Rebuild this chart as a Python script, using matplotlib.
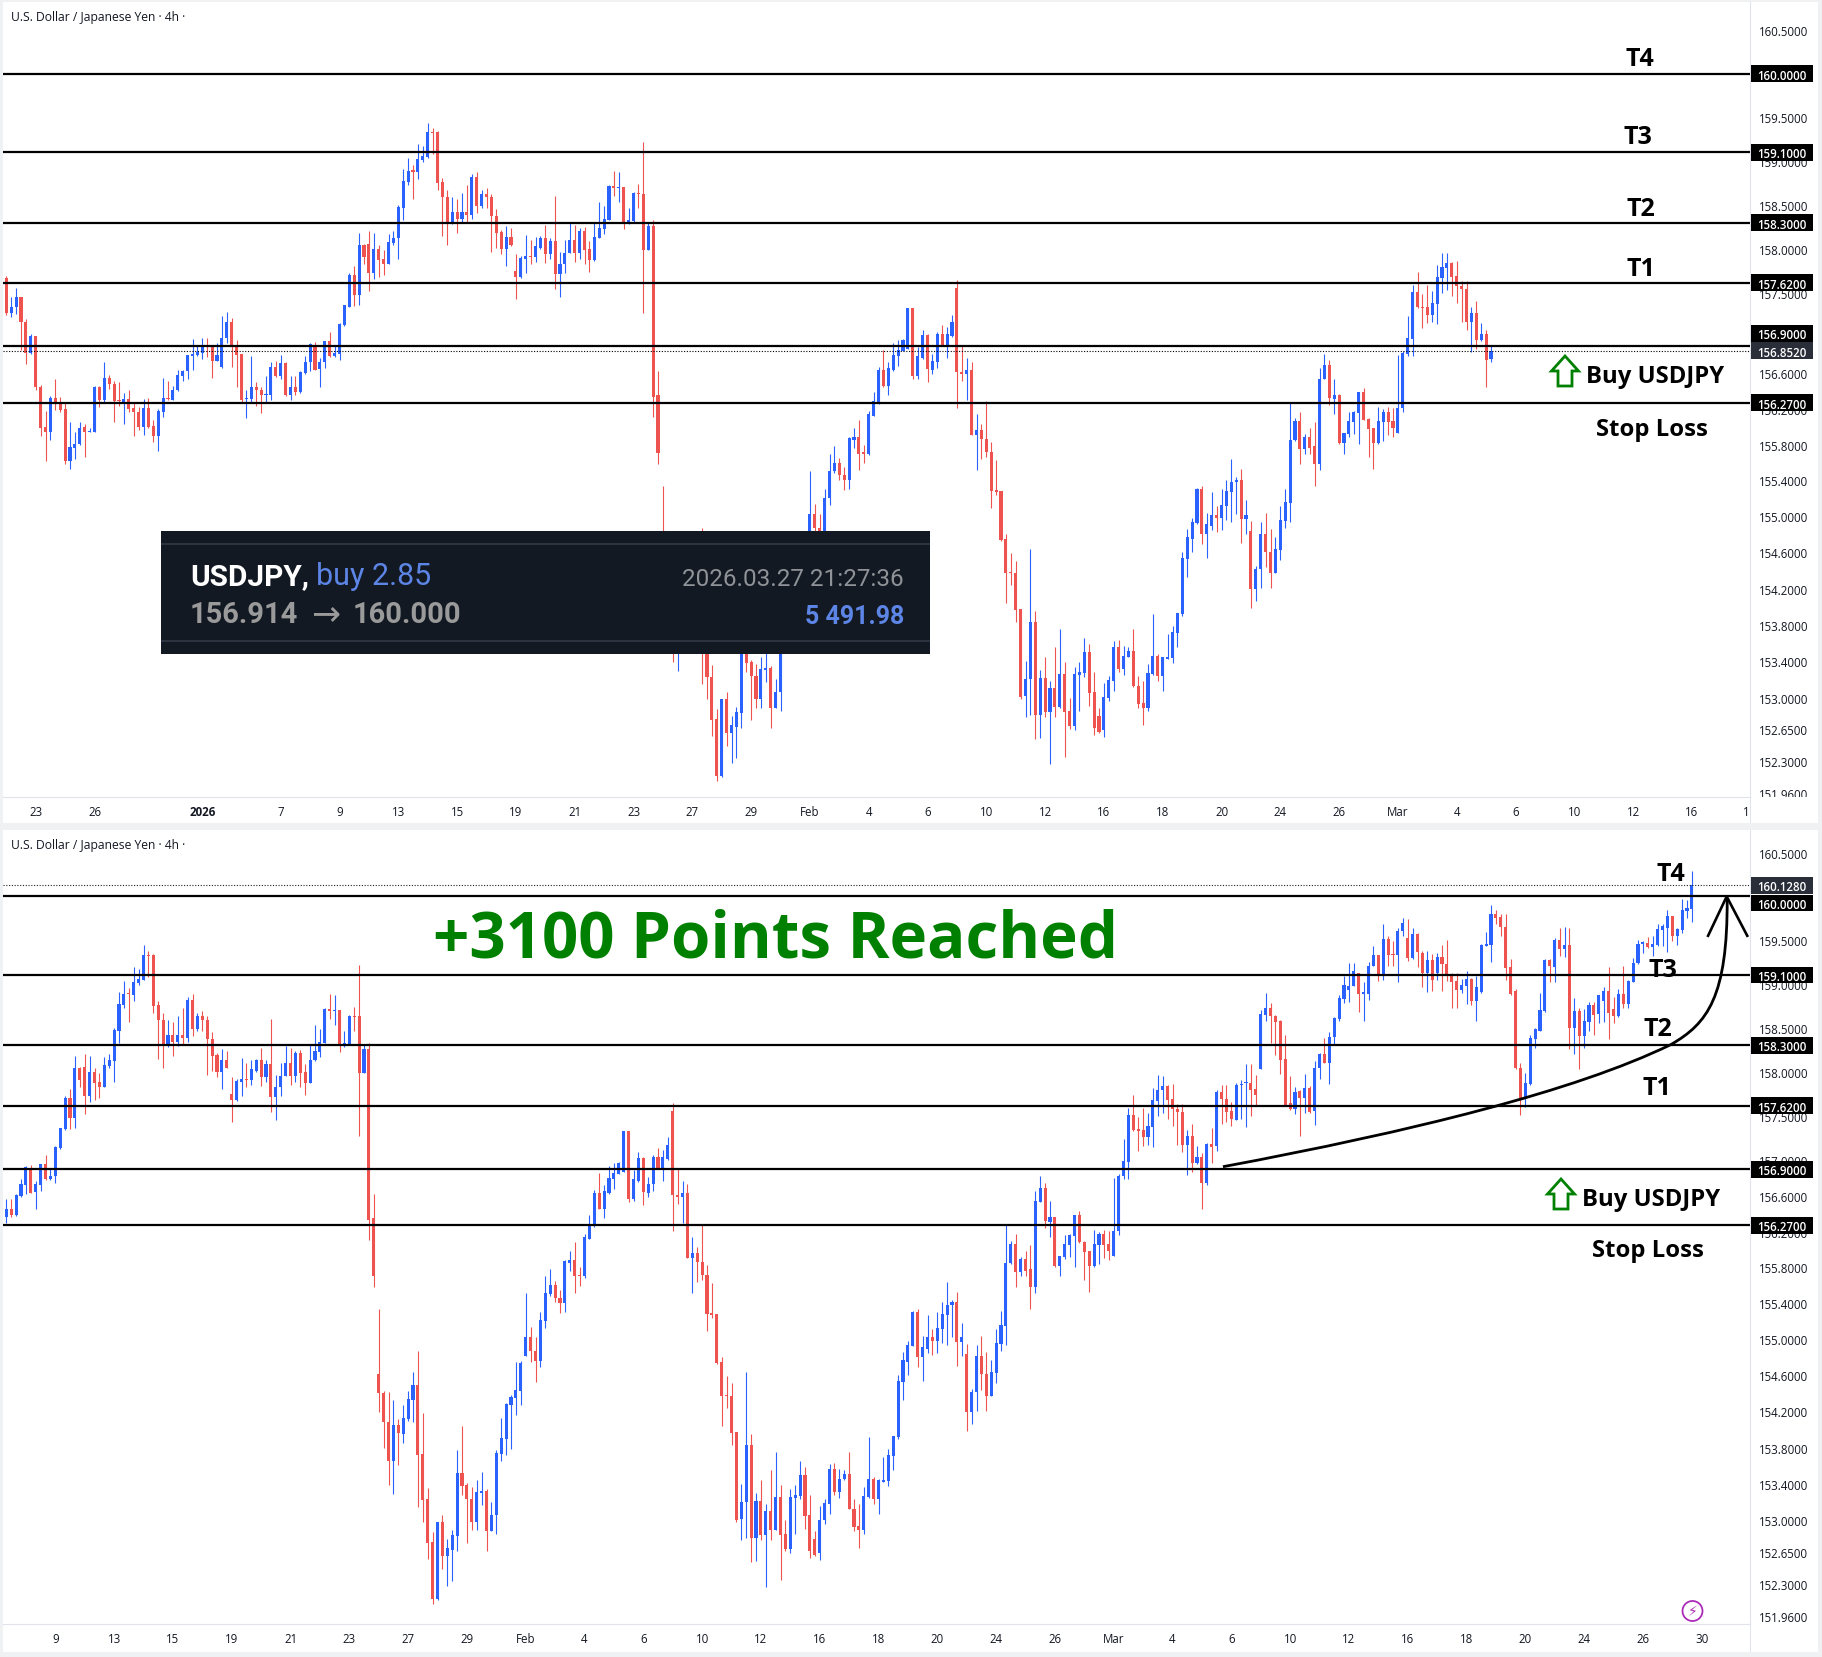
import numpy as np
import matplotlib
matplotlib.use('Agg')
import matplotlib.pyplot as plt
from matplotlib.patches import Rectangle, Polygon, Circle, PathPatch
from matplotlib.path import Path
from matplotlib.ticker import NullLocator, FixedLocator, FixedFormatter
from matplotlib.transforms import IdentityTransform, Bbox

# 4h USDJPY candles, oldest first
opens = [
    157.67,157.28,157.35,157.46,157.17,156.83,157.02,156.45,156.00,155.94,156.32,156.28,156.20,155.62,155.76,155.81,156.00,155.94,155.94,156.45,
    156.30,156.55,156.48,156.30,156.28,156.31,156.21,156.17,156.00,156.21,156.01,155.90,156.17,156.32,156.30,156.41,156.57,156.62,156.79,156.80,
    156.83,156.91,156.90,156.74,156.67,157.00,157.17,156.91,156.81,156.31,156.31,156.44,156.41,156.35,156.35,156.67,156.57,156.71,156.36,156.45,
    156.39,156.60,156.72,156.90,156.65,156.72,156.96,156.79,156.82,157.14,157.35,157.71,157.48,158.05,158.06,157.73,158.00,157.89,157.83,158.07,
    158.12,158.47,158.76,158.89,158.87,159.01,159.05,159.33,159.33,158.76,158.59,158.29,158.42,158.34,158.42,158.39,158.82,158.49,158.63,158.59,
    158.37,158.19,158.00,158.14,157.75,157.68,157.89,157.92,157.91,158.01,158.13,157.94,158.09,157.72,157.83,157.95,158.10,157.95,158.21,158.00,
    157.88,158.13,158.23,158.33,158.72,158.69,158.70,158.30,158.32,158.64,158.63,157.99,158.26,156.35,154.62,154.40,154.08,153.65,154.05,153.95,
    154.12,154.33,154.49,153.73,153.23,152.76,152.14,152.98,152.61,152.68,152.83,153.52,153.39,153.24,152.98,153.30,153.32,152.88,153.06,153.73,
    153.90,154.27,154.35,154.43,154.82,155.03,154.87,154.76,155.20,155.50,155.60,155.46,155.40,155.85,155.88,155.71,155.70,156.12,156.27,156.63,
    156.46,156.64,156.79,156.85,156.87,157.33,156.57,156.77,157.03,156.64,156.73,157.04,156.91,157.02,157.56,156.61,156.59,156.63,155.91,155.96,
    155.86,155.72,155.29,155.28,154.75,154.38,154.37,153.97,153.02,153.20,153.83,152.81,153.21,152.84,153.10,152.90,153.26,152.85,152.69,153.25,
    153.27,153.50,153.06,152.80,152.64,153.00,153.18,153.56,153.31,153.45,153.51,153.13,152.94,152.89,153.26,153.46,153.24,153.42,153.43,153.71,
    153.92,154.53,154.75,154.93,155.30,154.80,154.89,155.02,154.98,155.12,155.27,155.38,155.41,154.97,154.84,154.19,154.42,154.81,154.61,154.37,
    154.63,154.95,155.15,155.85,156.06,155.75,155.89,155.78,155.58,156.53,156.69,156.31,156.36,155.82,155.92,156.05,156.15,156.39,156.09,155.98,
    155.82,156.05,156.17,156.06,155.93,156.21,156.82,156.98,157.51,157.35,157.34,157.26,157.38,157.67,157.79,157.84,157.69,157.58,157.55,157.17,
    157.28,156.97,157.04,156.75,157.19,157.16,157.77,157.69,157.56,157.46,157.85,157.87,157.88,157.81,158.03,158.65,158.73,158.64,158.58,158.15,
    157.65,157.58,157.78,157.70,157.82,157.56,158.04,158.20,158.10,158.40,158.60,158.83,158.93,158.98,159.12,158.89,158.89,159.20,159.33,159.10,
    159.51,159.34,159.33,159.60,159.52,159.30,159.57,159.35,159.12,159.27,159.12,159.31,159.23,159.10,159.03,158.93,158.98,159.06,158.81,158.91,
    159.43,159.45,159.80,159.77,159.65,159.19,158.92,158.04,157.69,157.86,158.37,158.47,158.69,159.27,159.19,159.50,159.40,159.44,158.50,158.69,
    158.41,158.57,158.76,158.66,158.81,158.92,158.72,158.63,158.89,158.77,159.02,159.24,159.46,159.47,159.42,159.44,159.62,159.64,159.78,159.55,
    159.62,159.83,159.86]
highs = [
    157.70,157.46,157.56,157.46,157.21,157.04,157.02,156.47,156.18,156.34,156.53,156.33,156.27,156.05,155.94,156.05,156.03,155.99,156.46,156.46,
    156.72,156.58,156.51,156.50,156.38,156.41,156.28,156.22,156.31,156.32,156.08,156.20,156.55,156.51,156.46,156.63,156.64,156.80,156.98,156.91,
    156.99,156.99,156.92,156.94,157.24,157.29,157.22,156.97,156.81,156.41,156.79,156.50,156.44,156.57,156.73,156.74,156.80,156.72,156.57,156.57,
    156.62,156.79,156.94,156.95,156.77,156.96,157.06,156.91,157.16,157.37,157.73,157.81,158.18,158.06,158.20,158.18,158.05,157.99,158.17,158.20,
    158.50,158.91,159.03,158.95,159.19,159.17,159.44,159.38,159.34,158.81,158.67,158.59,158.57,158.64,158.73,158.85,158.88,158.67,158.69,158.63,
    158.45,158.22,158.26,158.24,157.94,157.92,158.16,158.10,158.14,158.15,158.27,158.13,158.60,157.97,158.10,158.29,158.27,158.24,158.25,158.09,
    158.31,158.53,158.49,158.73,158.89,158.87,158.70,158.47,158.65,158.74,159.22,158.31,158.33,156.62,155.34,154.43,154.41,154.33,154.12,154.27,
    154.43,154.64,154.87,154.18,153.36,152.87,152.98,153.06,152.80,152.90,153.77,154.04,153.41,153.37,153.44,153.53,153.35,153.20,153.77,154.13,
    154.29,154.38,154.75,154.76,155.51,155.14,155.03,155.30,155.70,155.78,155.65,155.55,155.88,155.98,156.08,155.80,156.18,156.39,156.67,156.86,
    156.72,156.94,156.97,156.98,157.33,157.33,156.89,157.09,157.04,156.81,157.06,157.14,157.12,157.26,157.65,156.92,156.77,156.73,156.14,156.03,
    156.29,155.83,155.63,155.28,154.80,154.59,154.51,153.97,153.40,154.64,153.95,153.30,153.44,153.18,153.55,153.75,153.39,153.00,153.34,153.39,
    153.65,153.59,153.28,152.88,153.16,153.24,153.62,153.63,153.57,153.55,153.75,153.24,153.18,153.37,153.92,153.48,153.45,153.70,153.79,153.93,
    154.60,154.86,154.98,155.32,155.34,155.04,155.27,155.12,155.30,155.41,155.64,155.44,155.53,155.18,154.95,154.45,154.94,155.04,154.86,154.77,
    155.12,155.31,156.28,156.10,156.17,155.92,155.99,156.05,156.66,156.82,156.75,156.54,156.37,155.93,156.16,156.18,156.39,156.43,156.10,155.98,
    156.22,156.20,156.22,156.21,156.80,156.85,157.24,157.59,157.74,157.49,157.59,157.53,157.82,157.96,157.95,157.85,157.86,157.64,157.64,157.34,
    157.41,157.16,157.08,157.20,157.37,157.79,157.85,157.85,157.66,157.88,157.91,158.09,158.09,157.97,158.70,158.90,158.78,158.65,158.59,158.42,
    157.95,157.83,157.79,157.98,157.84,158.12,158.22,158.39,158.45,158.62,158.87,159.09,159.24,159.24,159.12,159.02,159.25,159.43,159.33,159.68,
    159.55,159.49,159.64,159.75,159.74,159.64,159.58,159.38,159.38,159.34,159.35,159.45,159.50,159.12,159.12,159.06,159.15,159.07,159.09,159.46,
    159.59,159.90,159.85,159.80,159.80,159.29,158.94,158.10,157.99,158.42,158.50,158.90,159.28,159.28,159.53,159.64,159.65,159.64,158.84,158.73,
    158.71,158.79,158.79,158.87,158.96,159.19,158.85,158.94,159.20,159.05,159.30,159.50,159.49,159.54,159.55,159.69,159.69,159.84,159.78,159.64,
    159.97,159.96,160.29]
lows = [
    157.25,157.23,157.27,156.86,156.70,156.82,156.41,155.90,155.62,155.85,156.19,156.17,155.58,155.53,155.64,155.80,155.66,155.94,155.94,156.22,
    156.26,156.42,156.05,156.23,156.03,156.17,155.90,155.96,155.91,155.99,155.83,155.73,156.11,156.30,156.30,156.40,156.51,156.54,156.63,156.79,
    156.76,156.78,156.55,156.74,156.66,156.94,156.67,156.45,156.26,156.10,156.26,156.23,156.15,156.27,156.30,156.56,156.53,156.34,156.30,156.36,
    156.38,156.59,156.62,156.63,156.45,156.66,156.78,156.78,156.75,157.13,157.34,157.36,157.37,157.83,157.52,157.66,157.68,157.71,157.83,158.05,
    157.89,158.33,158.73,158.57,158.80,158.99,159.04,159.08,158.67,158.15,158.05,158.28,158.18,158.29,158.30,158.34,158.41,158.46,158.47,157.97,
    158.01,157.94,157.81,158.04,157.43,157.67,157.73,157.83,157.85,158.00,157.84,157.89,157.55,157.46,157.73,157.95,157.85,157.89,157.83,157.74,
    157.87,158.12,158.17,158.33,158.60,158.53,158.23,158.28,158.31,158.47,157.28,157.99,156.11,155.58,154.19,153.80,153.39,153.29,153.61,153.85,
    154.09,154.08,153.15,152.98,152.58,152.09,152.13,152.47,152.28,152.34,152.67,153.28,152.75,152.89,152.89,153.17,152.67,152.88,152.85,153.65,
    153.72,153.79,154.16,154.27,154.81,154.75,154.53,154.69,155.13,155.48,155.41,155.29,155.30,155.76,155.52,155.59,155.68,156.12,156.25,156.45,
    156.35,156.62,156.68,156.85,156.87,156.53,156.54,156.76,156.50,156.59,156.66,156.90,156.77,157.01,156.21,156.51,156.30,155.91,155.52,155.64,
    155.66,155.09,155.24,154.73,154.04,154.24,153.83,152.98,152.79,152.81,152.55,152.56,152.79,152.27,152.79,152.89,152.35,152.66,152.64,152.85,
    153.23,152.91,152.59,152.61,152.57,152.96,153.07,153.28,153.25,153.44,153.12,152.88,152.70,152.85,153.25,153.18,153.07,153.42,153.38,153.55,
    153.90,154.33,154.60,154.92,154.69,154.54,154.85,154.83,154.85,154.96,154.94,155.03,154.70,154.81,153.98,154.06,154.21,154.44,154.21,154.37,
    154.52,154.87,154.94,155.84,155.58,155.70,155.70,155.34,155.52,156.53,156.24,156.14,155.81,155.70,155.89,155.92,155.81,156.07,155.66,155.53,
    155.81,155.84,155.91,155.88,155.93,156.16,156.79,156.79,157.33,157.11,157.16,157.17,157.15,157.50,157.54,157.47,157.39,157.17,157.09,156.84,
    156.87,156.96,156.45,156.72,156.97,157.11,157.41,157.43,157.39,157.46,157.47,157.38,157.50,157.62,158.03,158.58,158.33,158.19,157.98,157.62,
    157.57,157.52,157.28,157.54,157.53,157.40,157.92,158.10,157.86,158.30,158.58,158.78,158.79,158.98,158.68,158.58,158.82,159.20,159.03,159.05,
    159.21,159.21,159.02,159.55,159.26,159.29,159.19,158.97,158.91,158.92,159.04,158.92,159.03,158.73,158.73,158.90,158.77,158.76,158.58,158.90,
    159.43,159.25,159.68,159.55,159.05,158.87,158.03,157.51,157.60,157.85,158.27,158.46,158.68,159.02,159.02,159.32,159.31,158.26,158.20,158.03,
    158.27,158.46,158.42,158.56,158.57,158.37,158.56,158.62,158.73,158.73,159.02,159.23,159.35,159.41,159.32,159.43,159.43,159.36,159.49,159.45,
    159.58,159.75,159.71]
closes = [
    157.28,157.35,157.46,157.17,156.83,157.02,156.44,155.99,155.94,156.32,156.27,156.19,155.62,155.77,155.81,155.99,155.94,155.95,156.45,156.30,
    156.55,156.48,156.29,156.29,156.31,156.20,156.16,156.00,156.21,156.00,155.90,156.18,156.32,156.31,156.41,156.58,156.62,156.80,156.81,156.84,
    156.91,156.89,156.74,156.80,157.00,157.17,156.89,156.80,156.30,156.32,156.44,156.41,156.35,156.35,156.67,156.57,156.71,156.36,156.45,156.39,
    156.61,156.73,156.93,156.64,156.73,156.96,156.79,156.83,157.15,157.37,157.71,157.48,158.05,157.91,157.73,158.00,157.88,157.83,158.08,158.13,
    158.48,158.77,158.89,158.88,159.02,159.06,159.33,159.32,158.75,158.59,158.29,158.42,158.34,158.42,158.39,158.82,158.49,158.63,158.59,158.37,
    158.18,158.00,158.14,158.05,157.68,157.90,157.92,157.91,158.03,158.13,157.94,158.09,157.72,157.83,157.95,158.10,157.95,158.21,157.99,157.88,
    158.14,158.24,158.34,158.72,158.69,158.70,158.30,158.33,158.64,158.62,157.99,158.26,156.33,155.71,154.40,154.08,153.65,154.05,153.96,154.13,
    154.34,154.49,153.72,153.22,152.75,152.14,152.98,152.61,152.70,152.84,153.52,153.38,153.24,152.98,153.31,153.32,152.88,153.06,153.74,153.91,
    154.28,154.36,154.44,154.74,155.03,154.87,154.76,155.21,155.51,155.60,155.46,155.40,155.87,155.88,155.70,155.70,156.14,156.29,156.63,156.46,
    156.66,156.80,156.86,156.97,157.33,156.57,156.79,157.03,156.65,156.74,157.04,156.91,157.04,157.18,156.61,156.59,156.63,155.91,155.96,155.86,
    155.72,155.28,155.27,154.74,154.37,154.37,153.96,153.01,153.20,153.83,152.81,153.21,152.84,153.10,152.90,153.26,152.84,152.69,153.26,153.28,
    153.50,153.05,152.67,152.62,153.01,153.19,153.56,153.31,153.46,153.51,153.13,152.93,152.89,153.27,153.46,153.24,153.44,153.44,153.72,153.93,
    154.54,154.77,154.94,155.30,154.80,154.91,155.02,154.98,155.13,155.28,155.38,155.41,154.97,155.02,154.19,154.42,154.81,154.61,154.37,154.64,
    154.96,155.16,155.85,156.06,155.75,155.89,155.76,155.58,156.54,156.69,156.32,156.36,155.82,155.93,156.06,156.16,156.39,156.08,155.97,155.82,
    156.06,156.17,156.05,155.99,156.21,156.83,156.99,157.51,157.34,157.33,157.26,157.39,157.68,157.80,157.84,157.68,157.58,157.55,157.17,157.28,
    156.97,157.04,156.75,157.19,157.15,157.77,157.69,157.55,157.47,157.85,157.86,157.88,157.80,157.74,158.66,158.73,158.63,158.57,158.14,157.63,
    157.58,157.77,157.70,157.82,157.55,158.05,158.20,158.10,158.40,158.61,158.84,158.99,158.98,159.15,158.88,158.89,159.21,159.33,159.10,159.51,
    159.33,159.33,159.61,159.70,159.30,159.57,159.37,159.12,159.27,159.04,159.31,159.23,159.09,159.02,158.93,158.99,159.06,158.81,158.96,159.45,
    159.46,159.80,159.75,159.65,159.18,158.88,158.04,157.69,157.87,158.39,158.49,158.70,159.27,159.20,159.50,159.40,159.44,158.50,158.69,158.41,
    158.58,158.76,158.65,158.87,158.92,158.67,158.63,158.89,158.77,159.03,159.24,159.46,159.48,159.42,159.46,159.63,159.66,159.78,159.55,159.63,
    159.84,159.87,160.128]

# the candle still forming when the first snapshot was taken
live_open, live_high, live_low, live_close = 156.76, 156.92, 156.72, 156.852

levels = [160.0, 159.1, 158.3, 157.62, 156.9, 156.27]
axis_prices = [160.5, 159.5, 159.0, 158.5, 158.0, 157.5, 157.0, 156.6, 156.2, 155.8, 155.4,
               155.0, 154.6, 154.2, 153.8, 153.4, 153.0, 152.65, 152.3, 151.96]

top_tick_pos = [6, 18, 40, 56, 68, 80, 92, 104, 116, 128, 140, 152, 164, 176, 188, 200, 212, 224,
                236, 248, 260, 272, 284, 296, 308, 320, 332, 344, 355]
top_tick_labels = ['23', '26', '2026', '7', '9', '13', '15', '19', '21', '23', '27', '29', 'Feb', '4', '6',
                   '10', '12', '16', '18', '20', '24', '26', 'Mar', '4', '6', '10', '12', '16', '1']
bottom_tick_pos = [68, 80, 92, 104, 116, 128, 140, 152, 164, 176, 188, 200, 212, 224, 236, 248, 260,
                   272, 284, 296, 308, 320, 332, 344, 356, 368, 380, 392, 404]
bottom_tick_labels = ['9', '13', '15', '19', '21', '23', '27', '29', 'Feb', '4', '6', '10', '12', '16', '18',
                      '20', '24', '26', 'Mar', '4', '6', '10', '12', '16', '18', '20', '24', '26', '30']

# projection drawn by hand on the lower chart, two bezier segments
curve_x = [306.3, 345, 378, 397.7, 405.2, 409.3, 409.2]
curve_y = [156.93, 157.33, 157.78, 158.31, 158.55, 158.85, 159.98]
head_x = [405.3, 409.1, 413.3]
head_y = [159.55, 160.0, 159.55]

W, H = 1822, 1658
UP = '#2962ff'
DOWN = '#ef5350'
GRID = '#e0e3eb'
TEXT = '#131722'
GREEN = '#008000'
SPACING = 4.9
FIRST_PX = 6.3

plt.rcParams['font.family'] = ['Open Sans', 'DejaVu Sans']

fig = plt.figure(figsize=(W / 100, H / 100), dpi=100, facecolor='#f0f1f3')


def px_rect(x, y, w, h, **kw):
    # rectangle given in pixels from the top left corner
    fig.add_artist(Rectangle((x, H - y - h), w, h, transform=IdentityTransform(), **kw))


def px_text(x, y, s, **kw):
    return fig.text(x / W, 1 - y / H, s, **kw)


def draw_candles(ax, first, o, h, l, c):
    x = first + np.arange(len(o))
    o, h, l, c = map(np.asarray, (o, h, l, c))
    colors = np.where(c >= o, UP, DOWN)
    ax.vlines(x, l, h, colors=colors, linewidth=0.8, zorder=2)
    ax.bar(x, np.maximum(np.abs(c - o), 0.014), bottom=np.minimum(o, c), width=0.62,
           color=colors, linewidth=0, zorder=2)


def setup_panel(top_px, axis_px, price_160_px, first, tick_pos, tick_labels):
    ax = fig.add_axes([3 / W, 1 - axis_px / H, 1747 / W, (axis_px - top_px) / H])
    # log price scale, one price ratio maps to a fixed pixel distance
    k = 13947.0
    ax.set_yscale('log')
    ax.set_ylim(160 * np.exp(-(axis_px - price_160_px) / k), 160 * np.exp((price_160_px - top_px) / k))
    ax.set_xlim(first + (3 - FIRST_PX) / SPACING, first + (1750 - FIRST_PX) / SPACING)
    for s in ['top', 'left']:
        ax.spines[s].set_visible(False)
    ax.spines['right'].set_color(GRID)
    ax.spines['bottom'].set_color(GRID)
    ax.yaxis.tick_right()
    ax.yaxis.set_minor_locator(NullLocator())
    ax.yaxis.set_major_locator(FixedLocator(axis_prices))
    ax.yaxis.set_major_formatter(FixedFormatter(['%.4f' % p for p in axis_prices]))
    ax.tick_params(axis='y', which='both', length=0, pad=6.4, labelsize=8.3, labelcolor=TEXT)
    ax.set_xticks(tick_pos)
    ax.set_xticklabels(tick_labels)
    ax.tick_params(axis='x', length=0, pad=6, labelsize=8.3, labelcolor=TEXT)
    for t in ax.get_xticklabels():
        if t.get_text() == '2026':
            t.set_fontweight('bold')
    # the price scale stops at the time axis, labels get cut there
    scale_box = Bbox([[1751, H - axis_px], [1818, H - top_px]])
    fig.canvas.draw()
    for t in ax.get_yticklabels():
        t.set_clip_box(scale_box)
        t.set_clip_on(True)
    for lv in levels:
        ax.axhline(lv, color='black', linewidth=1.6, zorder=3)
    return ax


def price_tag(ax, price, bg='black', shift=0):
    y = ax.transData.transform((ax.get_xlim()[0], price))[1] + shift
    fig.add_artist(Rectangle((1751, y - 8.3), 62, 16.6, transform=IdentityTransform(),
                             facecolor=bg, edgecolor='none', zorder=2))
    fig.text(1782 / W, y / H, '%.4f' % price, color='white', fontsize=8.3, fontweight='semibold',
             ha='center', va='center_baseline', zorder=4)


def up_arrow(cx, top):
    # hollow green arrow next to the buy label
    pts = [(0, 0), (13.5, 15), (7, 15), (7, 30), (-7, 30), (-7, 15), (-13.5, 15)]
    fig.add_artist(Polygon([(cx + a, H - top - b) for a, b in pts], closed=True, fill=False,
                           edgecolor=GREEN, linewidth=2.0, joinstyle='miter',
                           transform=IdentityTransform(), zorder=3))


def note(x, y, s, size=17.2):
    px_text(x, y, s, fontsize=size, fontweight='bold', color='black', ha='center', va='center', zorder=4)


# page background behind both charts
px_rect(3, 3, 1815, 821, facecolor='white', edgecolor='none', zorder=-1)
px_rect(3, 831, 1815, 822, facecolor='white', edgecolor='none', zorder=-1)
# price scale divider carries on through the time axis
px_rect(1750, 798, 1, 26, facecolor=GRID, edgecolor='none', zorder=1)
px_rect(1750, 1625, 1, 28, facecolor=GRID, edgecolor='none', zorder=1)

# upper chart
ax1 = setup_panel(3, 798, 74.6, 0, top_tick_pos, top_tick_labels)
draw_candles(ax1, 0, opens[:303] + [live_open], highs[:303] + [live_high],
             lows[:303] + [live_low], closes[:303] + [live_close])
ax1.axhline(live_close, color='black', linewidth=0.8, linestyle=(0, (1, 1.5)), zorder=3)

# lower chart, same series further along
ax2 = setup_panel(831, 1625, 897.5, 58, bottom_tick_pos, bottom_tick_labels)
draw_candles(ax2, 58, opens[58:], highs[58:], lows[58:], closes[58:])
ax2.axhline(closes[-1], color='#222222', linewidth=0.8, linestyle=(0, (1, 1.5)), zorder=3)
curve_codes = [Path.MOVETO] + [Path.CURVE4] * 6
ax2.add_patch(PathPatch(Path(np.column_stack((curve_x, curve_y)), curve_codes), fill=False,
                        edgecolor='black', linewidth=2.0, zorder=4))
ax2.plot(head_x, head_y, color='black', linewidth=1.9, zorder=4, clip_on=False)

for lv in [160.0, 159.1, 158.3, 157.62, 156.27]:
    price_tag(ax1, lv)
price_tag(ax1, 156.9, shift=13)
price_tag(ax1, live_close, bg='#2a2e39')

price_tag(ax2, closes[-1], bg='#2a2e39')
price_tag(ax2, 160.0, shift=-6.5)
for lv in [159.1, 158.3, 157.62, 156.9, 156.27]:
    price_tag(ax2, lv)

for y in [18, 846]:
    px_text(11, y, 'U.S. Dollar / Japanese Yen \u00b7 4h \u00b7', fontsize=8.7, color=TEXT, va='center')

# target labels
for x, y, s in [(1640, 59.5, 'T4'), (1638, 137.5, 'T3'), (1641, 209.5, 'T2'), (1641, 269.5, 'T1'),
                (1671, 874.5, 'T4'), (1663, 970.5, 'T3'), (1658, 1029.5, 'T2'), (1657, 1088.5, 'T1')]:
    note(x, y, s, size=18)
note(1655, 377.5, 'Buy USDJPY')
note(1652, 430.5, 'Stop Loss')
note(1651, 1200, 'Buy USDJPY')
note(1648, 1251, 'Stop Loss')
up_arrow(1565, 357)
up_arrow(1561, 1180)

px_text(776, 941, '+3100 Points Reached', fontsize=45.8, fontweight='bold', color=GREEN,
        ha='center', va='center', zorder=4)

# trade summary box
px_rect(161, 532, 769, 123, facecolor='#121923', edgecolor='none', zorder=2)
px_rect(161, 544, 769, 1.5, facecolor='#2b3240', edgecolor='none', zorder=2.1)
px_rect(161, 641, 769, 1.5, facecolor='#2b3240', edgecolor='none', zorder=2.1)
box_font = ['Roboto', 'DejaVu Sans']
px_text(190, 585, 'USDJPY,', family=box_font, fontsize=21.5, fontweight='bold', color='white', va='baseline', zorder=4)
px_text(316, 585, 'buy 2.85', family=box_font, fontsize=22, color='#5c85e6', va='baseline', zorder=4)
px_text(190, 623, '156.914', family=box_font, fontsize=21, fontweight='bold', color='#9a9a9a', va='baseline', zorder=4)
px_text(325.5, 611, '\u2192', family=['DejaVu Sans'], fontsize=25, color='#9a9a9a', ha='center', va='center_baseline', zorder=4)
px_text(353, 623, '160.000', family=box_font, fontsize=21, fontweight='bold', color='#9a9a9a', va='baseline', zorder=4)
px_text(904, 585.5, '2026.03.27 21:27:36', family=box_font, fontsize=17.5, color='#8f9296', ha='right', va='baseline', zorder=4)
px_text(904, 623.5, '5 491.98', family=box_font, fontsize=18, fontweight='bold', color='#5c85e6', ha='right', va='baseline', zorder=4)

# small badge in the lower corner
fig.add_artist(Circle((1692.5, H - 1612), 10, transform=IdentityTransform(), fill=False,
                      edgecolor='#ab2cb8', linewidth=1.3, zorder=3))
px_text(1692.5, 1612, '\u26a1', family=['DejaVu Sans'], fontsize=10, color='#ab2cb8', ha='center', va='center', zorder=4)

fig.savefig('out.png', dpi=100, facecolor=fig.get_facecolor())
